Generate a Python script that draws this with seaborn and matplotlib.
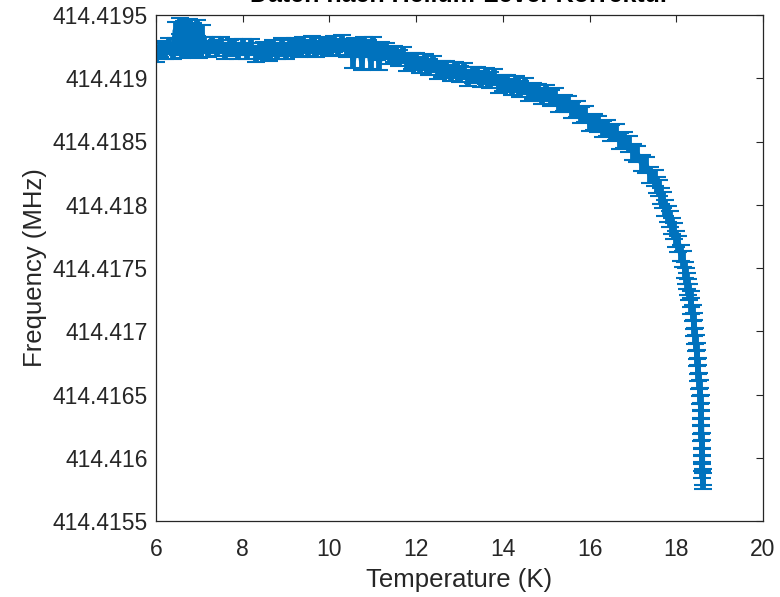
import numpy as np
import pandas as pd
import matplotlib
matplotlib.use("Agg")
import matplotlib.pyplot as plt
import seaborn as sns

# ---- data ----
temperature_k = [
    6.0, 6.1, 6.2, 6.3, 6.4, 6.45, 6.5, 6.55, 6.6, 6.65, 6.7, 6.75, 6.8, 6.85, 6.9, 6.95,
    7.0, 7.05, 7.1, 7.2, 7.3, 7.4, 7.5, 7.6, 7.7, 7.8, 7.9, 8.0, 8.1, 8.2, 8.3, 8.4, 8.5,
    8.6, 8.7, 8.8, 8.9, 9.0, 9.1, 9.2, 9.3, 9.4, 9.5, 9.6, 9.7, 9.8, 9.9, 10.0, 10.1, 10.2,
    10.3, 10.4, 10.5, 10.55, 10.6, 10.7, 10.75, 10.8, 10.9, 10.95, 11.0, 11.1, 11.15, 11.2,
    11.3, 11.4, 11.5, 11.6, 11.7, 11.8, 11.9, 12.0, 12.1, 12.2, 12.3, 12.4, 12.5, 12.6,
    12.7, 12.8, 12.9, 13.0, 13.1, 13.2, 13.3, 13.4, 13.5, 13.6, 13.7, 13.8, 13.9, 14.0,
    14.1, 14.2, 14.3, 14.4, 14.5, 14.6, 14.7, 14.8, 14.9, 15.0, 15.1, 15.2, 15.3, 15.4,
    15.5, 15.6, 15.7, 15.8, 15.9, 16.0, 16.1, 16.2, 16.3, 16.4, 16.5, 16.6, 16.7, 16.8,
    16.9, 17.0, 17.1, 17.2, 17.3, 17.4,
    17.5, 17.55, 17.6, 17.65, 17.7, 17.75, 17.8, 17.85, 17.9, 17.95, 18.0, 18.05, 18.1,
    18.15, 18.2, 18.22, 18.25, 18.28, 18.3, 18.33, 18.35, 18.38, 18.4, 18.42, 18.44, 18.45,
    18.47, 18.48, 18.5, 18.51, 18.53, 18.54, 18.55, 18.56, 18.57, 18.57, 18.58, 18.58,
    18.59, 18.59, 18.6, 18.6, 18.6, 18.61, 18.61,
]

frequency_mhz = [
    414.419192, 414.419231, 414.419215, 414.419255, 414.419215, 414.419381, 414.419247,
    414.419413, 414.419223, 414.419389, 414.419255, 414.419405, 414.419231, 414.419373,
    414.419247, 414.419397, 414.419223, 414.419358, 414.419263, 414.419231, 414.419263,
    414.419239, 414.419263, 414.419215, 414.419239, 414.419247, 414.419215, 414.419247,
    414.419215, 414.419247, 414.419192, 414.419215, 414.419223, 414.419200, 414.419239,
    414.419215, 414.419255, 414.419215, 414.419239, 414.419255, 414.419231, 414.419263,
    414.419239, 414.419271, 414.419231, 414.419255, 414.419263, 414.419239, 414.419271,
    414.419247, 414.419279, 414.419231, 414.419247, 414.419144, 414.419255, 414.419231,
    414.419128, 414.419263, 414.419239, 414.419136, 414.419263, 414.419208, 414.419128,
    414.419223, 414.419215, 414.419176, 414.419192, 414.419160, 414.419184, 414.419120,
    414.419136, 414.419136, 414.419105, 414.419128, 414.419089, 414.419113, 414.419057,
    414.419073, 414.419073, 414.419041, 414.419065, 414.419034, 414.419057, 414.419002,
    414.419026, 414.419026, 414.418994, 414.419018, 414.418986, 414.419010, 414.418947,
    414.418962, 414.418962, 414.418931, 414.418954, 414.418915, 414.418939, 414.418883,
    414.418899, 414.418891, 414.418860, 414.418883, 414.418844, 414.418860, 414.418796,
    414.418804, 414.418796, 414.418749, 414.418757, 414.418709, 414.418717, 414.418646,
    414.418654, 414.418638, 414.418599, 414.418607, 414.418567, 414.418575, 414.418504,
    414.418512, 414.418480, 414.418417, 414.418401, 414.418330, 414.418314, 414.418235,
    414.418211, 414.418156, 414.418132, 414.418069, 414.418038, 414.417974, 414.417927,
    414.417887, 414.417832, 414.417792, 414.417729, 414.417690, 414.417619, 414.417571,
    414.417484, 414.417437, 414.417397, 414.417350, 414.417310, 414.417255, 414.417200,
    414.417144, 414.417081, 414.417026, 414.416962, 414.416907, 414.416844, 414.416789,
    414.416725, 414.416670, 414.416607, 414.416551, 414.416488, 414.416433, 414.416370,
    414.416314, 414.416251, 414.416196, 414.416132, 414.416077, 414.416014, 414.415958,
    414.415903, 414.415848, 414.415816,
]

frequency_err_mhz = [0.00006] * len(frequency_mhz)

x_ticks = [6, 8, 10, 12, 14, 16, 18, 20]
y_ticks = [414.4155, 414.416, 414.4165, 414.417, 414.4175, 414.418, 414.4185, 414.419, 414.4195]
y_tick_labels = ["414.4155", "414.416", "414.4165", "414.417", "414.4175",
                 "414.418", "414.4185", "414.419", "414.4195"]

title_text = "Daten nach Helium-Level-Korrektur"
x_label = "Temperature (K)"
y_label = "Frequency (MHz)"

# ---- plotting ----
sns.set_theme(style="white")
plt.rcParams["font.family"] = ["Liberation Sans", "DejaVu Sans"]

dark = "#262626"
blue = "#0072BD"

df = pd.DataFrame({"T": temperature_k, "f": frequency_mhz, "err": frequency_err_mhz})

fig = plt.figure(figsize=(7.8, 5.97), dpi=100)
ax = fig.add_axes([156 / 780, 76 / 597, 607 / 780, 506 / 597])

ax.errorbar(df["T"], df["f"], yerr=df["err"], fmt="none", ecolor=blue,
            elinewidth=4.2, capsize=6.5, capthick=1.5)
sns.lineplot(data=df, x="T", y="f", sort=False, estimator=None, color=blue,
             linewidth=4.0, ax=ax)

ax.set_xlim(6, 20)
ax.set_ylim(414.4155, 414.4195)
ax.set_xticks(x_ticks)
ax.set_xticklabels([str(t) for t in x_ticks])
ax.set_yticks(y_ticks)
ax.set_yticklabels(y_tick_labels)

ax.tick_params(direction="in", length=5, width=0.8, colors=dark, labelsize=16.5,
               top=True, right=True, labelcolor=dark)
ax.tick_params(axis="y", pad=6)
ax.tick_params(axis="x", pad=12)
for s in ax.spines.values():
    s.set_color(dark)
    s.set_linewidth(0.9)
    s.set_visible(True)

ax.set_xlabel(x_label, fontsize=18.5, color=dark, labelpad=5)
ax.set_ylabel(y_label, fontsize=18.5, color=dark, labelpad=4)
ax.set_title(title_text, fontsize=18, fontweight="bold", color="black", pad=9)

fig.savefig("out.png", dpi=100)
